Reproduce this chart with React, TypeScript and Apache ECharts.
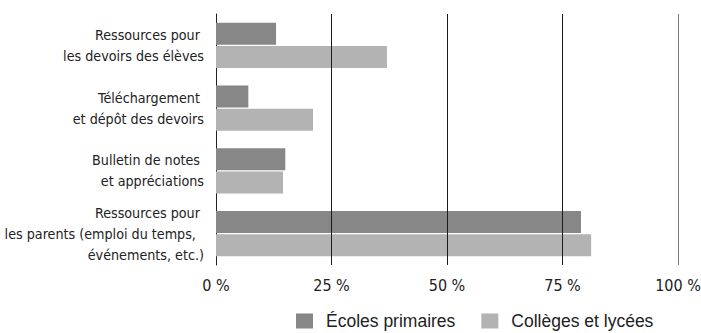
import React, { useEffect, useRef } from "react";
import * as echarts from "echarts";

const categories = [
  "Ressources pour \nles devoirs des élèves",
  "Téléchargement \net dépôt des devoirs",
  "Bulletin de notes \net appréciations",
  "Ressources pour \nles parents (emploi du temps,  \névénements, etc.)",
];
const primaires = [13, 7, 15, 79];
const colleges = [37, 21, 14.5, 81.2];
const seriesNames = ["Écoles primaires", "Collèges et lycées"];
const gridValues = [25, 50, 75, 100];

const FONT = "'DejaVu Sans Condensed', 'Liberation Sans Narrow', sans-serif";

export default function App() {
  const ref = useRef<HTMLDivElement>(null);
  useEffect(() => {
    if (!ref.current) return;
    const chart = echarts.init(ref.current, undefined, { renderer: "svg" });
    chart.setOption({
      animation: false,
      textStyle: { fontFamily: FONT },
      grid: {
        left: 216,
        right: 23,
        top: 14,
        bottom: 68,
        containLabel: false,
        outerBoundsMode: "none",
      },
      legend: {
        data: seriesNames,
        left: 296,
        top: 312,
        itemWidth: 17,
        itemHeight: 15,
        itemGap: 26,
        padding: 0,
        icon: "rect",
        selectedMode: false,
        textStyle: {
          fontFamily: "'Liberation Sans', Arial, sans-serif",
          fontSize: 17.5,
          color: "#222",
          padding: [0, 0, 0, 8],
        },
      },
      xAxis: {
        type: "value",
        min: 0,
        max: 100,
        interval: 25,
        axisLine: { show: false },
        axisTick: { show: false },
        splitLine: { show: false },
        axisLabel: {
          formatter: "{value} %",
          fontSize: 16,
          color: "#222",
          margin: 12,
          fontFamily: FONT,
        },
      },
      yAxis: {
        type: "category",
        data: categories,
        inverse: true,
        axisLine: { show: true, lineStyle: { color: "#222", width: 1 } },
        axisTick: { show: false },
        axisLabel: {
          fontSize: 14.2,
          lineHeight: 21,
          color: "#222",
          margin: 12,
          align: "right",
          fontFamily: FONT,
        },
      },
      series: [
        {
          name: seriesNames[0],
          type: "bar",
          data: primaires,
          barWidth: 22,
          barGap: "6%",
          itemStyle: { color: "#878787" },
          emphasis: { disabled: true },
        },
        {
          name: seriesNames[1],
          type: "bar",
          data: colleges,
          barWidth: 22,
          barGap: "6%",
          itemStyle: { color: "#b3b3b3" },
          emphasis: { disabled: true },
          markLine: {
            silent: true,
            symbol: ["none", "none"],
            label: { show: false },
            lineStyle: { color: "#1a1a1a", width: 1, type: "solid" },
            emphasis: { disabled: true },
            data: gridValues.map((v) =>
              v === 100 ? { xAxis: v, lineStyle: { color: "#7a7a7a" } } : { xAxis: v }
            ),
          },
        },
      ],
    });
    return () => chart.dispose();
  }, []);
  return (
    <div
      ref={ref}
      style={{ position: "absolute", left: 0, top: 0, width: 701, height: 333, background: "#fff" }}
    />
  );
}
